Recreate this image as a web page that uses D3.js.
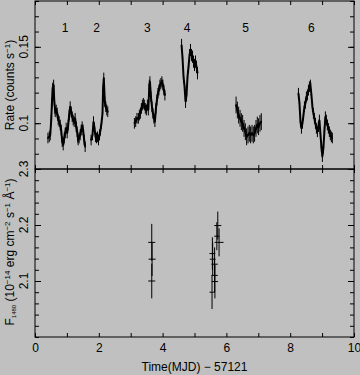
<!DOCTYPE html>
<html><head><meta charset="utf-8">
<script src="https://cdn.jsdelivr.net/npm/d3@7"></script>
<style>body{margin:0;background:#c0c0c0}svg{display:block}text{font-family:"Liberation Sans",Arial,sans-serif;fill:#000}</style>
</head><body><script>
// ---- X-ray light curve (Rate, counts/s), six visits ----
const seg1Time=[0.406,0.447,0.478,0.509,0.531,0.553,0.584,0.603,0.634,0.666,0.697,0.728,0.759,0.791,0.822,0.853,0.884,0.916,0.947,0.978,1.009,1.041,1.072,1.103,1.134,1.166,1.197,1.228,1.259,1.291,1.322,1.353,1.384,1.416,1.447,1.478,1.509,1.541,1.572];
const seg1Rate=[0.0903,0.0911,0.0923,0.1021,0.1132,0.1230,0.1250,0.1152,0.1075,0.1086,0.1067,0.1021,0.1010,0.0988,0.0955,0.0879,0.0857,0.0903,0.0936,0.0968,0.0936,0.0988,0.1053,0.1108,0.1075,0.1042,0.1021,0.1010,0.1032,0.0977,0.0944,0.0890,0.0903,0.0923,0.0955,0.0977,0.0955,0.0890,0.0846];
const seg2Time=[1.759,1.803,1.834,1.866,1.897,1.928,1.959,1.991,2.022,2.053,2.084,2.116,2.134,2.156,2.188,2.219,2.250,2.281];
const seg2Rate=[0.0890,0.0923,0.1010,0.0968,0.0911,0.0903,0.0911,0.0890,0.0923,0.0955,0.0999,0.1064,0.1217,0.1296,0.1140,0.1108,0.1086,0.1075];
const seg3Time=[3.116,3.156,3.197,3.241,3.272,3.303,3.334,3.366,3.397,3.428,3.459,3.491,3.522,3.553,3.584,3.603,3.634,3.666,3.697,3.728,3.759,3.791,3.822,3.853,3.884,3.916,3.947,3.978,4.009,4.041,4.072];
const seg3Rate=[0.0999,0.1010,0.1032,0.1032,0.1053,0.1064,0.1097,0.1119,0.1130,0.1119,0.1097,0.1086,0.1119,0.1086,0.1250,0.1272,0.1173,0.1108,0.1064,0.1032,0.1010,0.1097,0.1152,0.1196,0.1217,0.1250,0.1261,0.1272,0.1250,0.1217,0.1184];
const seg4Time=[4.594,4.625,4.656,4.688,4.719,4.750,4.781,4.813,4.844,4.875,4.906,4.938,4.969,5.000,5.031,5.063,5.094];
const seg4Rate=[0.1512,0.1425,0.1304,0.1239,0.1140,0.1184,0.1304,0.1370,0.1446,0.1479,0.1446,0.1435,0.1403,0.1381,0.1403,0.1370,0.1327];
const seg5Time=[6.303,6.344,6.384,6.428,6.469,6.509,6.553,6.594,6.634,6.678,6.719,6.759,6.803,6.844,6.884,6.928,6.969,7.009,7.053,7.094];
const seg5Rate=[0.1119,0.1086,0.1053,0.1032,0.1010,0.0999,0.0966,0.0944,0.0911,0.0923,0.0934,0.0923,0.0934,0.0923,0.0934,0.0966,0.0988,0.0977,0.0999,0.1010];
const seg6Time=[8.259,8.291,8.322,8.353,8.384,8.416,8.447,8.478,8.509,8.541,8.572,8.603,8.634,8.666,8.697,8.728,8.759,8.791,8.822,8.853,8.884,8.916,8.947,8.978,9.009,9.041,9.072,9.103,9.134,9.166,9.197,9.228,9.259,9.291,9.322];
const seg6Rate=[0.1196,0.1130,0.1010,0.0966,0.0999,0.1053,0.1108,0.1130,0.1173,0.1184,0.1217,0.1239,0.1250,0.1184,0.1108,0.1064,0.1032,0.0999,0.0966,0.0944,0.0977,0.1021,0.0934,0.0846,0.0781,0.0836,0.0944,0.1042,0.1021,0.0988,0.0966,0.0944,0.0923,0.0911,0.0903];
const segErr=[0.0035,0.0035,0.0035,0.004,0.0055,0.0035];
const segLabels=["1","2","3","4","5","6"];
const segLabelTime=[0.94,1.93,3.52,4.77,6.60,8.66];
const segLabelRate=0.1623;
const binHalf=0.018;

// ---- UV flux F1480 ----
const uvTime=[3.66,3.67,3.66,5.73,5.77,5.70,5.56,5.57,5.63,5.63,5.64,5.55];
const uvFlux=[2.169,2.139,2.100,2.199,2.169,2.180,2.149,2.139,2.130,2.110,2.099,2.080];
const uvErr=[0.033,0.030,0.031,0.025,0.025,0.025,0.029,0.030,0.030,0.030,0.030,0.030];
const uvHalf=[0.11,0.11,0.11,0.11,0.14,0.08,0.09,0.09,0.10,0.10,0.10,0.08];

// ---- ticks ----
const xMinor=[0,1,2,3,4,5,6,7,8,9,10];
const xLabels=[0,2,4,6,8,10];
const rateMinor=[0.07,0.08,0.09,0.10,0.11,0.12,0.13,0.14,0.15,0.16,0.17,0.18];
const rateMajor=[0.10,0.15];
const rateLabels=["0.1","0.15"];
const fluxMinor=[2.00,2.02,2.04,2.06,2.08,2.10,2.12,2.14,2.16,2.18,2.20,2.22,2.24,2.26,2.28,2.30];
const fluxMajor=[2.1,2.2,2.3];
const fluxLabels=["2.1","2.2","2.3"];

const W=360,H=375;
const L=35,R=354,T=1,M=169,B=337;
const svg=d3.select("body").append("svg").attr("width",W).attr("height",H);
svg.append("rect").attr("width",W).attr("height",H).attr("fill","#c0c0c0");

const x=d3.scaleLinear().domain([0,10]).range([L,R]);
const yTop=d3.scaleLinear().domain([0.07,0.18]).range([M,T]);
const yBot=d3.scaleLinear().domain([2.0,2.3]).range([B,M]);

function tickAxis(gen,vals,size,tx,ty){
  const g=svg.append("g").attr("transform",`translate(${tx},${ty})`)
    .call(gen.tickValues(vals).tickSize(size).tickFormat(""));
  g.select(".domain").remove();
  g.selectAll("line").attr("stroke","#000").attr("stroke-width",1);
  return g;
}
tickAxis(d3.axisRight(yTop),rateMinor,4,L,0);
tickAxis(d3.axisRight(yTop),rateMajor,6,L,0);
tickAxis(d3.axisLeft(yTop),rateMinor,4,R,0);
tickAxis(d3.axisLeft(yTop),rateMajor,6,R,0);
tickAxis(d3.axisRight(yBot),fluxMinor,4,L,0);
tickAxis(d3.axisRight(yBot),fluxMajor,6,L,0);
tickAxis(d3.axisLeft(yBot),fluxMinor,4,R,0);
tickAxis(d3.axisLeft(yBot),fluxMajor,6,R,0);
tickAxis(d3.axisBottom(x),xMinor,4,0,T);
tickAxis(d3.axisTop(x),xMinor,4,0,M);
tickAxis(d3.axisBottom(x),xMinor,4,0,M);
tickAxis(d3.axisTop(x),xMinor,4,0,B);

svg.append("rect").attr("x",L).attr("y",T).attr("width",R-L).attr("height",M-T).attr("fill","none").attr("stroke","#000");
svg.append("rect").attr("x",L).attr("y",M).attr("width",R-L).attr("height",B-M).attr("fill","none").attr("stroke","#000");

const xl=svg.append("g").attr("transform",`translate(0,${B})`)
  .call(d3.axisBottom(x).tickValues(xLabels).tickSize(0).tickPadding(6).tickFormat(d3.format("d")));
xl.select(".domain").remove();
xl.selectAll("text").attr("font-size",12).attr("font-family","Liberation Sans, Arial, sans-serif").attr("fill","#000");

function yLabels(scale,vals,labels){
  vals.forEach((v,i)=>{
    svg.append("text").attr("transform",`translate(28,${scale(v)}) rotate(-90)`)
      .attr("text-anchor","middle").attr("font-size",12).text(labels[i]);
  });
}
yLabels(yTop,rateMajor,rateLabels);
yLabels(yBot,fluxMajor,fluxLabels);

function rich(sel,parts){
  let shift=0;
  parts.forEach(([t,type])=>{
    const target=type==="sup"?-4:type==="sub"?2:0;
    const fs=type==="sup"?8:type==="sub"?6:12;
    sel.append("tspan").attr("dy",target-shift).attr("font-size",fs).text(t);
    shift=target;
  });
}
const rt=svg.append("text").attr("transform",`translate(13.5,85) rotate(-90)`).attr("text-anchor","middle").attr("font-size",12);
rich(rt,[["Rate (counts s","n"],["\u22121","sup"],[")","n"]]);
const ft=svg.append("text").attr("transform",`translate(13.5,252) rotate(-90)`).attr("text-anchor","middle").attr("font-size",12);
rich(ft,[["F","n"],["1480","sub"],[" (10","n"],["\u221214","sup"],[" erg cm","n"],["\u22122","sup"],[" s","n"],["\u22121","sup"],[" \u00c5","n"],["\u22121","sup"],[")","n"]]);
svg.append("text").attr("x",(L+R)/2).attr("y",371).attr("text-anchor","middle").attr("font-size",12).text("Time(MJD) \u2212 57121");

segLabels.forEach((s,i)=>{
  svg.append("text").attr("x",x(segLabelTime[i])).attr("y",yTop(segLabelRate)).attr("dy","0.35em")
    .attr("text-anchor","middle").attr("font-size",12).text(s);
});

// light curve: binned points with error bars, joined
const segs=[[seg1Time,seg1Rate],[seg2Time,seg2Rate],[seg3Time,seg3Rate],[seg4Time,seg4Rate],[seg5Time,seg5Rate],[seg6Time,seg6Rate]];
const lc=svg.append("g").attr("stroke","#000");
const join=d3.line().x(d=>x(d[0])).y(d=>yTop(d[1]));
segs.forEach(([ts,rs],k)=>{
  const e=segErr[k];
  lc.append("path").attr("d",join(ts.map((t,i)=>[t,rs[i]]))).attr("fill","none").attr("stroke-width",2);
  ts.forEach((t,i)=>{
    lc.append("line").attr("x1",x(t)).attr("x2",x(t)).attr("y1",yTop(rs[i]-e)).attr("y2",yTop(rs[i]+e)).attr("stroke-width",1);
    lc.append("line").attr("x1",x(t-binHalf)).attr("x2",x(t+binHalf)).attr("y1",yTop(rs[i])).attr("y2",yTop(rs[i])).attr("stroke-width",2);
  });
});

const uv=svg.append("g").attr("stroke","#000").attr("stroke-width",1);
uvTime.forEach((t,i)=>{
  uv.append("line").attr("x1",x(t)).attr("x2",x(t)).attr("y1",yBot(uvFlux[i]-uvErr[i])).attr("y2",yBot(uvFlux[i]+uvErr[i]));
  uv.append("line").attr("x1",x(t-uvHalf[i])).attr("x2",x(t+uvHalf[i])).attr("y1",yBot(uvFlux[i])).attr("y2",yBot(uvFlux[i]));
});
</script></body></html>
